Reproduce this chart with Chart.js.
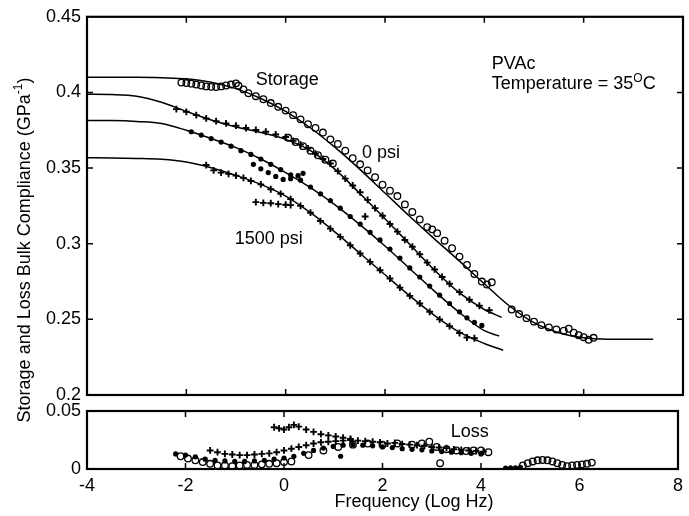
<!DOCTYPE html>
<html>
<head>
<meta charset="utf-8">
<script src="https://cdn.jsdelivr.net/npm/chart.js@4.4.1/dist/chart.umd.min.js"></script>
<style>
  html, body { margin: 0; background: #fff; }
  #wrap { position: relative; width: 689px; height: 516px; }
  #wrap canvas { position: absolute; left: 0; top: 0; }
</style>
</head>
<body>
<div id="wrap">
  <canvas id="cTop" width="689" height="516"></canvas>
  <canvas id="cBot" width="689" height="516"></canvas>
</div>
<script>
'use strict';

/* ---- axes ---------------------------------------------------------------- */
const xTicks      = [-4, -2, 0, 2, 4, 6, 8];
const xTickLabels = ['-4', '-2', '0', '2', '4', '6', '8'];
const yTopTicks      = [0.2, 0.25, 0.3, 0.35, 0.4, 0.45];
const yTopTickLabels = ['0.2', '0.25', '0.3', '0.35', '0.4', '0.45'];
const yBotTicks      = [0, 0.05];
const yBotTickLabels = ['0', '0.05'];

/* ---- storage: model fits (one per pressure, 0 psi on top) ---------------- */
const fit0 = [[-4,0.410],[-3,0.410],[-2.5,0.4097],[-2,0.409],[-1.5,0.4067],[-1,0.4025],[-0.5,0.396],[0,0.3875],
  [0.5,0.3765],[1,0.3635],[1.5,0.349],[2,0.3335],[2.5,0.318],[3,0.303],[3.5,0.2885],[4,0.2735],[4.5,0.259],
  [5,0.2478],[5.5,0.2412],[6,0.2378],[6.5,0.2369],[7.4,0.2368]];
const fit1 = [[-4,0.3988],[-3.5,0.3986],[-3,0.3975],[-2.5,0.3935],[-2,0.3875],[-1.5,0.3818],[-1,0.3772],[-0.5,0.3735],
  [0,0.369],[0.5,0.3615],[1,0.349],[1.5,0.333],[2,0.3165],[2.5,0.2995],[3,0.2825],[3.5,0.2675],[4,0.2565],[4.35,0.2513]];
const fit2 = [[-4,0.3815],[-3.5,0.3814],[-3,0.3808],[-2.5,0.3795],[-2,0.375],[-1.5,0.3695],[-1,0.3635],[-0.5,0.356],
  [0,0.347],[0.5,0.337],[1,0.3255],[1.5,0.3125],[2,0.2985],[2.5,0.2835],[3,0.2685],[3.5,0.2545],[4,0.2425],[4.3,0.239]];
const fit3 = [[-4,0.3568],[-3.5,0.3567],[-3,0.3564],[-2.5,0.3558],[-2,0.354],[-1.5,0.3502],[-1,0.3452],[-0.5,0.3392],
  [0,0.3315],[0.5,0.3205],[1,0.3075],[1.5,0.2935],[2,0.2795],[2.5,0.2655],[3,0.2525],[3.5,0.2415],[4,0.234],[4.38,0.2296]];

/* ---- storage: measured points ------------------------------------------- */
const storCircles = [[-2.1,0.4065],[-2.0,0.4062],[-1.9,0.4058],[-1.8,0.4052],[-1.7,0.4046],[-1.6,0.404],[-1.5,0.4037],
  [-1.4,0.4036],[-1.3,0.404],[-1.2,0.4046],[-1.1,0.4052],[-1.0,0.406],[-0.95,0.4045],[-0.85,0.402],[-0.75,0.3995],
  [-0.6,0.3975],[-0.45,0.3955],[-0.3,0.393],[-0.15,0.3905],[0,0.388],[0.15,0.385],[0.3,0.3822],[0.45,0.379],
  [0.6,0.3765],[0.75,0.3735],[0.9,0.369],[1.05,0.366],[1.2,0.3615],[1.35,0.3565],[1.5,0.3525],[1.65,0.3485],
  [1.8,0.344],[1.95,0.339],[2.1,0.335],[2.25,0.3315],[2.4,0.326],[2.55,0.321],[2.7,0.316],[2.85,0.311],[2.95,0.3095],
  [3.05,0.307],[3.2,0.302],[3.35,0.297],[3.5,0.2915],[3.65,0.286],[3.8,0.28],[3.95,0.275],[4.05,0.273],[4.15,0.2745],
  [4.55,0.2565],[4.7,0.2535],[4.85,0.2508],[5.0,0.2485],[5.15,0.2462],[5.3,0.2447],[5.45,0.2433],[5.6,0.2425],
  [5.7,0.2438],[5.8,0.2412],[5.9,0.2395],[6.0,0.2382],[6.1,0.2365],[6.2,0.2378],
  [0.05,0.37],[0.2,0.3672],[0.35,0.3645],[0.5,0.3615],[0.65,0.3585],[0.8,0.3555],[0.95,0.353]];
const storCrossA = [[-2.2,0.389],[-2.0,0.3872],[-1.8,0.385],[-1.6,0.3828],[-1.4,0.381],[-1.2,0.3795],[-1.0,0.378],
  [-0.8,0.3765],[-0.6,0.3752],[-0.4,0.374],[-0.2,0.3722],[0,0.3705],[0.15,0.368],[0.3,0.3655],[0.45,0.363],
  [0.6,0.3595],[0.75,0.356],[0.9,0.353],[1.05,0.348],[1.2,0.343],[1.35,0.3385],[1.5,0.334],[1.65,0.329],[1.8,0.3235],
  [1.95,0.3185],[2.1,0.313],[2.25,0.308],[2.4,0.3025],[2.55,0.298],[2.7,0.293],[2.85,0.2875],[3.0,0.283],[3.15,0.278],
  [3.3,0.2735],[3.5,0.268],[3.7,0.263],[3.9,0.259],[4.1,0.256],[1.6,0.318]];
const storDots = [[-1.9,0.374],[-1.7,0.3718],[-1.5,0.3695],[-1.3,0.3672],[-1.1,0.3645],[-0.9,0.3615],[-0.7,0.359],
  [-0.5,0.356],[-0.3,0.3525],[-0.1,0.349],[0.1,0.3455],[0.3,0.342],[0.5,0.3375],[0.7,0.333],[0.9,0.3285],[1.1,0.3235],
  [1.3,0.318],[1.5,0.313],[1.7,0.3075],[1.9,0.3025],[2.1,0.2965],[2.3,0.2905],[2.5,0.284],[2.7,0.278],[2.9,0.272],
  [3.1,0.266],[3.3,0.2605],[3.5,0.255],[3.65,0.251],[3.8,0.248],[3.95,0.246],
  [-0.65,0.3525],[-0.5,0.3495],[-0.35,0.347],[-0.2,0.3445],[-0.05,0.3425],[0.1,0.343],[0.25,0.345],[0.35,0.3465]];
const storCrossB = [[-1.6,0.352],[-1.45,0.3485],[-1.3,0.347],[-1.15,0.3462],[-1.0,0.345],[-0.85,0.3435],[-0.7,0.3415],
  [-0.5,0.3392],[-0.3,0.336],[-0.1,0.333],[0.1,0.3295],[0.3,0.325],[0.5,0.3205],[0.7,0.315],[0.9,0.31],[1.1,0.3045],
  [1.3,0.299],[1.5,0.2935],[1.7,0.288],[1.9,0.2825],[2.1,0.277],[2.3,0.271],[2.5,0.2655],[2.7,0.2605],[2.9,0.255],
  [3.1,0.25],[3.3,0.2455],[3.5,0.241],[3.65,0.238],[3.8,0.2375],
  [-0.6,0.3275],[-0.45,0.327],[-0.3,0.3268],[-0.15,0.3262],[0,0.3258],[0.1,0.3255]];

/* ---- loss: measured points ----------------------------------------------- */
const lossCircles = [[-2.1,0.011],[-1.95,0.009],[-1.8,0.0075],[-1.65,0.006],[-1.5,0.0045],[-1.35,0.003],[-1.2,0.003],
  [-1.05,0.0025],[-0.9,0.003],[-0.75,0.0035],[-0.6,0.0035],[-0.45,0.004],[-0.3,0.0045],[-0.15,0.005],[0,0.006],
  [0.15,0.0065],[0.5,0.012],[0.8,0.016],[1.1,0.019],[1.4,0.021],[1.7,0.022],[2.0,0.021],[2.3,0.022],[2.6,0.021],
  [2.8,0.022],[2.95,0.0235],[3.1,0.019],[3.3,0.017],[3.5,0.016],[3.7,0.0155],[3.85,0.016],[4.0,0.016],[4.15,0.0145],
  [3.17,0.005],[4.85,0.003],[4.95,0.005],[5.05,0.0065],[5.15,0.0075],[5.25,0.0078],[5.35,0.0075],[5.45,0.0065],
  [5.55,0.005],[5.65,0.0035],[5.75,0.0025],[5.85,0.003],[5.95,0.0035],[6.05,0.004],[6.15,0.0045],[6.25,0.0055]];
const lossCross = [[-1.5,0.016],[-1.35,0.0145],[-1.2,0.013],[-1.05,0.0125],[-0.9,0.012],[-0.75,0.012],[-0.6,0.0125],
  [-0.45,0.013],[-0.3,0.0135],[-0.15,0.0145],[0,0.016],[0.15,0.0175],[0.3,0.019],[0.45,0.0205],[0.6,0.022],
  [0.75,0.023],[0.9,0.0235],[1.05,0.024],[1.2,0.0245],[1.35,0.025],[1.5,0.0245],[1.65,0.024],[1.8,0.0235],
  [1.95,0.023],[2.1,0.022],[2.25,0.0225],[2.4,0.0215],[2.55,0.021],[2.7,0.0205],[2.85,0.02],[3.0,0.019],
  [3.15,0.0185],[3.3,0.018],[3.45,0.017],[3.6,0.0165],[3.75,0.016],[3.9,0.0155],[4.05,0.015],
  [-0.2,0.036],[-0.1,0.035],[0,0.034],[0.1,0.036],[0.2,0.038],[0.3,0.0365],[0.45,0.034],[0.6,0.032],
  [0.75,0.03],[0.9,0.029],[1.05,0.028],[1.2,0.027],[1.35,0.026]];
const lossDots = [[-2.2,0.013],[-2.0,0.012],[-1.8,0.0105],[-1.6,0.0085],[-1.4,0.0075],[-1.2,0.007],[-1.0,0.0065],
  [-0.8,0.0065],[-0.6,0.007],[-0.4,0.0075],[-0.2,0.0085],[0,0.0095],[0.2,0.011],[0.4,0.0135],[0.6,0.016],
  [0.8,0.018],[1.0,0.0195],[1.2,0.0205],[1.4,0.021],[1.6,0.0205],[1.8,0.02],[2.0,0.019],[2.2,0.0185],[2.4,0.0175],
  [2.6,0.017],[2.8,0.0165],[3.0,0.0155],[3.2,0.015],[3.4,0.0145],[3.6,0.014],[3.8,0.0135],[4.0,0.013],
  [1.15,0.011],[4.5,0.0008],[4.6,0.001],[4.7,0.001],[4.8,0.0015]];

/* ---- look ---------------------------------------------------------------- */
const FAMILY = '"Liberation Sans", Arial, Helvetica, sans-serif';
const FS = 18, FS_SUP = 12;
const TICK = 6;
const AXIS_W = 87;          // left edge of both plot frames

const pts = (a) => a.map(([x, y]) => ({ x, y }));
const fitLine = (a) => ({ data: pts(a), showLine: true, pointRadius: 0, borderColor: '#000',
  borderWidth: 1.5, cubicInterpolationMode: 'monotone', fill: false });
const openCircles = (a) => ({ data: pts(a), pointStyle: 'circle', pointRadius: 3.3, borderWidth: 1.3,
  borderColor: '#000', backgroundColor: 'rgba(255,255,255,0)' });
const crosses = (a) => ({ data: pts(a), pointStyle: 'cross', pointRadius: 3.4, borderWidth: 1.9, borderColor: '#000' });
const dots = (a) => ({ data: pts(a), pointStyle: 'circle', pointRadius: 2.6, borderWidth: 0,
  backgroundColor: '#000', borderColor: '#000' });

/* text with optional superscript pieces */
function drawParts(ctx, parts, x, y, align){
  const w = parts.map(p => { ctx.font = (p.sup ? FS_SUP : FS) + 'px ' + FAMILY; return ctx.measureText(p.t).width; });
  const total = w.reduce((s, v) => s + v, 0);
  let cx = align === 'center' ? x - total / 2 : align === 'right' ? x - total : x;
  ctx.textAlign = 'left'; ctx.textBaseline = 'middle'; ctx.fillStyle = '#000';
  parts.forEach((p, i) => {
    ctx.font = (p.sup ? FS_SUP : FS) + 'px ' + FAMILY;
    ctx.fillText(p.t, cx, p.sup ? y - 6 : y);
    cx += w[i];
  });
}

/* frame + inward ticks on all four sides */
const framePlugin = {
  id: 'frame',
  afterDatasetsDraw(chart, args, opts){
    const { ctx, chartArea: a, scales: { x, y } } = chart;
    ctx.save();
    ctx.strokeStyle = '#000';
    ctx.lineWidth = 1.5;
    ctx.beginPath();
    for (const v of opts.xTicks){
      const px = x.getPixelForValue(v);
      if (px <= a.left + 1 || px >= a.right - 1) continue;
      ctx.moveTo(px, a.top);    ctx.lineTo(px, a.top + TICK);
      ctx.moveTo(px, a.bottom); ctx.lineTo(px, a.bottom - TICK);
    }
    for (const v of opts.yTicks){
      const py = y.getPixelForValue(v);
      if (py <= a.top + 1 || py >= a.bottom - 1) continue;
      ctx.moveTo(a.left, py);  ctx.lineTo(a.left + TICK, py);
      ctx.moveTo(a.right, py); ctx.lineTo(a.right - TICK, py);
    }
    ctx.stroke();
    ctx.lineWidth = 2.2;
    ctx.strokeRect(a.left, a.top, a.right - a.left, a.bottom - a.top);
    ctx.restore();
  }
};

/* annotations: data coords unless px:true */
const notesPlugin = {
  id: 'notes',
  afterDraw(chart, args, opts){
    const { ctx, scales: { x, y } } = chart;
    for (const n of opts.items){
      const px = n.px ? n.x : x.getPixelForValue(n.x);
      const py = n.px ? n.y : y.getPixelForValue(n.y);
      ctx.save();
      ctx.translate(px, py);
      if (n.rotate) ctx.rotate(n.rotate);
      drawParts(ctx, n.parts, 0, 0, n.align || 'left');
      ctx.restore();
    }
  }
};

function yAxis(min, max, ticks, labels){
  return {
    type: 'linear', position: 'left', min, max,
    afterFit: (s) => { s.width = AXIS_W; },
    afterBuildTicks: (s) => { s.ticks = ticks.map(v => ({ value: v })); },
    grid: { display: false, drawTicks: false }, border: { display: false },
    ticks: { padding: 6, color: '#000', autoSkip: false, font: { family: FAMILY, size: FS },
      callback: (v, i) => labels[i] }
  };
}

function baseOptions(padding, scales, frame, notes){
  return {
    responsive: false, animation: false, events: [],
    layout: { padding },
    scales,
    plugins: { legend: { display: false }, tooltip: { enabled: false }, frame, notes }
  };
}

/* ---- top panel: storage -------------------------------------------------- */
new Chart(document.getElementById('cTop'), {
  type: 'scatter',
  data: { datasets: [
    fitLine(fit0), fitLine(fit1), fitLine(fit2), fitLine(fit3),
    openCircles(storCircles), crosses(storCrossA), dots(storDots), crosses(storCrossB)
  ] },
  options: baseOptions(
    { left: 0, right: 6, top: 15, bottom: 121 },
    { x: { type: 'linear', min: -4, max: 8, display: false },
      y: yAxis(0.2, 0.45, yTopTicks, yTopTickLabels) },
    { xTicks, yTicks: yTopTicks },
    { items: [
      { x: 0.03,  y: 0.4085, align: 'center', parts: [{ t: 'Storage' }] },
      { x: 1.92,  y: 0.36,   align: 'center', parts: [{ t: '0 psi' }] },
      { x: -0.34, y: 0.3033, align: 'center', parts: [{ t: '1500 psi' }] },
      { x: 4.15,  y: 0.419,  parts: [{ t: 'PVAc' }] },
      { x: 4.15,  y: 0.4053, parts: [{ t: 'Temperature = 35' }, { t: 'O', sup: true }, { t: 'C' }] },
      { px: true, x: 25, y: 250, rotate: -Math.PI / 2, align: 'center',
        parts: [{ t: 'Storage and Loss Bulk Compliance (GPa' }, { t: '-1', sup: true }, { t: ')' }] }
    ] }
  ),
  plugins: [framePlugin, notesPlugin]
});

/* ---- bottom panel: loss -------------------------------------------------- */
new Chart(document.getElementById('cBot'), {
  type: 'scatter',
  data: { datasets: [ openCircles(lossCircles), crosses(lossCross), dots(lossDots) ] },
  options: baseOptions(
    { left: 0, right: 6, top: 411, bottom: 0 },
    { x: { type: 'linear', position: 'bottom', min: -4, max: 8,
        afterFit: (s) => { s.height = 47; },
        afterBuildTicks: (s) => { s.ticks = xTicks.map(v => ({ value: v })); },
        grid: { display: false, drawTicks: false }, border: { display: false },
        ticks: { padding: 6, color: '#000', autoSkip: false, maxRotation: 0,
          font: { family: FAMILY, size: FS }, callback: (v, i) => xTickLabels[i] } },
      y: yAxis(0, 0.05, yBotTicks, yBotTickLabels) },
    { xTicks, yTicks: yBotTicks },
    { items: [
      { x: 3.77, y: 0.0319, align: 'center', parts: [{ t: 'Loss' }] },
      { px: true, x: 414, y: 502, align: 'center', parts: [{ t: 'Frequency (Log Hz)' }] }
    ] }
  ),
  plugins: [framePlugin, notesPlugin]
});
</script>
</body>
</html>
